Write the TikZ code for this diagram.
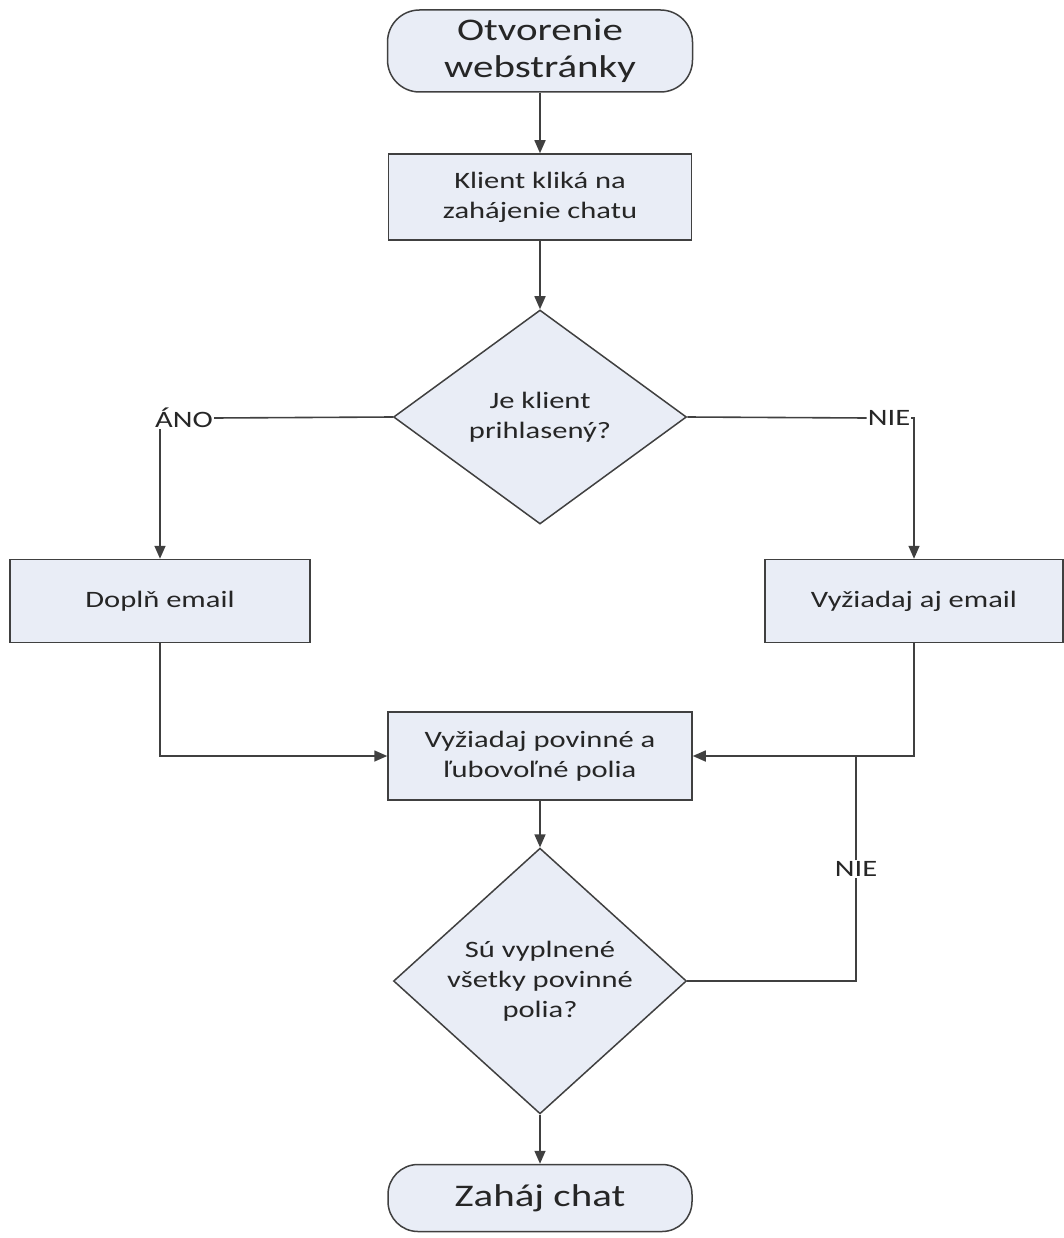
\documentclass[tikz,border=0pt]{standalone}
\usepackage{fontspec}
\setmainfont[FakeStretch=1.3]{Carlito}
\usetikzlibrary{shapes.geometric,arrows.meta}
\definecolor{boxfill}{HTML}{E9EDF6}
\definecolor{edge}{HTML}{404040}
\definecolor{ink}{HTML}{262626}
\begin{document}
\begin{tikzpicture}[x=1pt,y=-1pt,
  every node/.style={text=ink},
  boxnode/.style={draw=edge, fill=boxfill, line width=1.5pt, align=center,
    inner sep=0pt, minimum width=303pt, minimum height=86pt,
    font=\fontsize{23.5}{30}\selectfont},
  term/.style={boxnode, rounded corners=32pt, font=\fontsize{31.5}{37}\selectfont},
  decision/.style={diamond, draw=edge, fill=boxfill, line width=1.5pt, align=center,
    inner sep=0pt, minimum width=293pt, minimum height=214pt,
    font=\fontsize{23.5}{30}\selectfont},
  lbl/.style={inner sep=1pt, font=\fontsize{23.5}{28}\selectfont},
  conn/.style={line width=1.6pt, draw=edge},
  flow/.style={conn, -{Triangle[length=13pt,width=11pt]}}]
\useasboundingbox (0,0) rectangle (1064,1238);

% process steps
\node[term, minimum width=305pt, minimum height=82pt] (start) at (540,51) {Otvorenie\\webstránky};
\node[boxnode] (klik) at (540,197) {Klient kliká na\\zahájenie chatu};
\node[decision] (q1) at (540,417) {Je klient\\prihlasený?};
\node[lbl] (ano) at (184,418) {ÁNO};
\node[lbl] (nie) at (889,418) {NIE};
\node[boxnode, minimum width=300pt, minimum height=83pt] (dopln) at (160,601) {Doplň email};
\node[boxnode, minimum width=298pt, minimum height=83pt] (vyz) at (914,601) {Vyžiadaj aj email};
\node[boxnode, minimum width=304pt, minimum height=88pt] (pov) at (540,756) {Vyžiadaj povinné a\\ľubovoľné polia};
\node[decision, minimum height=218pt] (q2) at (540,981) {Sú vyplnené\\všetky povinné\\polia?};
\node[lbl] (nie2) at (856,869) {NIE};
\node[term, minimum width=304pt, minimum height=67pt, rounded corners=30pt] (end) at (540,1198) {Zaháj chat};

% connectors
\draw[flow] (start.south) -- (klik.north);
\draw[flow] (klik.south) -- (q1.north);
\draw[conn] (q1.west) -- (ano.east);
\draw[flow] (ano.south -| dopln.north) -- (dopln.north);
\draw[conn] (q1.east) -- (nie.west);
\draw[flow] (nie.east) -| (vyz.north);
\draw[flow] (dopln.south) |- (pov.west);
\draw[flow] (vyz.south) |- (pov.east);
\draw[flow] (pov.south) -- (q2.north);
\draw[conn] (q2.east) -| (nie2.south);
\draw[conn] (nie2.north) -- (nie2.north |- pov.east);
\draw[flow] (q2.south) -- (end.north);
\end{tikzpicture}
\end{document}
